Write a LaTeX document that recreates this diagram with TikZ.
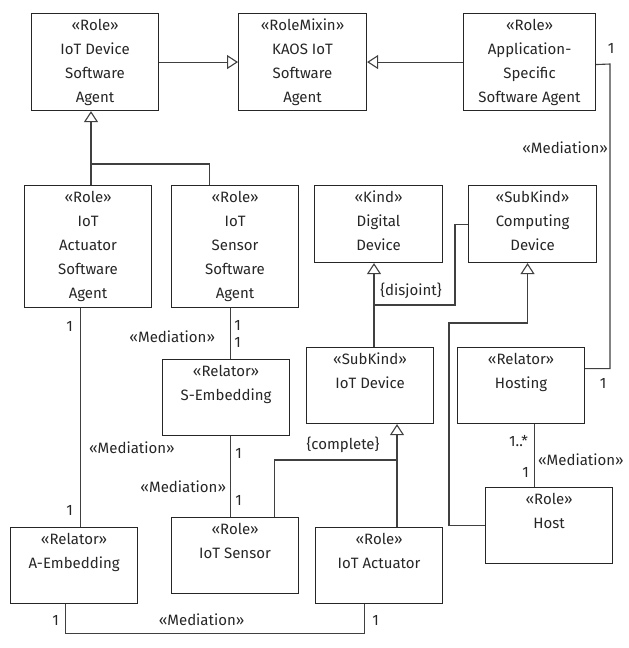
\documentclass[tikz,border=0pt]{standalone}
\usepackage{fontspec}
\setmainfont{Fira Sans}
\usetikzlibrary{arrows.meta}

\newcommand{\umltext}[3]{\parbox[c][#2pt][t]{#1pt}{\centering\strut #3}}

\tikzset{
    umlclass/.style={draw=black!85, line width=1.1pt, anchor=north west, inner sep=0pt,
        text=black!85, font=\fontsize{15}{24}\selectfont},
    assoc/.style={draw=black!75, line width=1.1pt},
    gen/.style={assoc, -{Triangle[open, length=11pt, width=14pt, fill=white]}},
    mult/.style={inner sep=1pt, text=black!85, font=\fontsize{15}{18}\selectfont},
}

\begin{document}
\begin{tikzpicture}[x=1pt, y=-1pt]
    \useasboundingbox (0,0) rectangle (629,648);

    \node [umlclass] (devsa) at (31,13)
        {\umltext{127}{97}{«Role»\\IoT Device\\Software\\Agent}};
    \node [umlclass] (kaos) at (238,13)
        {\umltext{128}{97}{«RoleMixin»\\KAOS IoT\\Software\\Agent}};
    \node [umlclass] (appsa) at (463,13)
        {\umltext{132}{97}{«Role»\\Application-\\Specific\\Software Agent}};
    \node [umlclass] (actsa) at (24,185)
        {\umltext{127}{122}{«Role»\\IoT\\Actuator\\Software\\Agent}};
    \node [umlclass] (senssa) at (171,185)
        {\umltext{127}{122}{«Role»\\IoT\\Sensor\\Software\\Agent}};
    \node [umlclass] (digital) at (314,185)
        {\umltext{128}{77}{«Kind»\\Digital\\Device}};
    \node [umlclass] (computing) at (468,185)
        {\umltext{128}{77}{«SubKind»\\Computing\\Device}};
    \node [umlclass] (semb) at (162,359)
        {\umltext{127}{76}{«Relator»\\S-Embedding}};
    \node [umlclass] (iotdev) at (306,347)
        {\umltext{127}{76}{«SubKind»\\IoT Device}};
    \node [umlclass] (hosting) at (457,347)
        {\umltext{127}{76}{«Relator»\\Hosting}};
    \node [umlclass] (aemb) at (10,527)
        {\umltext{127}{76}{«Relator»\\A-Embedding}};
    \node [umlclass] (sensor) at (171,517)
        {\umltext{127}{76}{«Role»\\IoT Sensor}};
    \node [umlclass] (actuator) at (315,527)
        {\umltext{127}{76}{«Role»\\IoT Actuator}};
    \node [umlclass] (host) at (485,487)
        {\umltext{127}{76}{«Role»\\Host}};

    \coordinate (agentjoin) at (91,164);
    \coordinate (appbend) at (610,64);
    \coordinate (devjoin) at (374,305);
    \coordinate (hostbend) at (449,323);
    \coordinate (rolejoin) at (397,460);

    % generalizations
    \draw [gen] (devsa) -- (kaos);
    \draw [gen] (appsa) -- (kaos);
    \draw [gen]
        (actsa.north -| agentjoin) -- (agentjoin) -- (agentjoin |- devsa.south)
        ;
    \draw [assoc]
        ([xshift=-25.5pt]senssa.north) |- (agentjoin)
        ;
    \draw [gen]
        (iotdev.north -| devjoin) -- (devjoin) -- (devjoin |- digital.south)
        ;
    \draw [assoc]
        (computing.west) -- ++(-13,0) |- (devjoin)
        ;
    \node [mult] (disjoint) at ([xshift=37pt, yshift=14pt]devjoin) {\{disjoint\}};
    \draw [gen]
        (host.west) -| (hostbend) -| ([xshift=-5pt]computing.south)
        ;
    \draw [gen]
        (actuator.north -| rolejoin) -- (rolejoin) -- (rolejoin |- iotdev.south)
        ;
    \draw [assoc]
        ([xshift=39.5pt]sensor.north) |- (rolejoin)
        ;
    \node [mult] (complete) at ([xshift=-54pt, yshift=15pt]rolejoin) {\{complete\}};

    % mediations
    \draw [assoc]
        ([yshift=-2.5pt]appsa.east) -- (appbend)
            node [mult, xshift=1pt, yshift=16pt] (appone) {1}
        |- ([yshift=17pt]hosting.east)
            node [mult, xshift=18pt, yshift=-15pt] (hostingone) {1}
        ;
    \node [mult, anchor=east] (appmed) at ([xshift=-1pt, yshift=-84pt]appbend) {«Mediation»};

    \draw [assoc]
        ([xshift=-7.5pt]actsa.south)
            node [mult, xshift=-11pt, yshift=-18pt] (actsaone) {1}
            node [mult, anchor=west, xshift=7pt, yshift=-140pt] (actsamed) {«Mediation»}
        -- ([xshift=6.5pt]aemb.north)
            node [mult, xshift=-11pt, yshift=17pt] (aembtop) {1}
        ;
    \draw [assoc]
        ([xshift=-4.5pt]senssa.south)
            node [mult, xshift=7pt, yshift=-17pt] (senssaone) {1}
            node [mult, anchor=east, xshift=-14pt, yshift=-29pt] (senssamed) {«Mediation»}
        -- ([xshift=4.5pt]semb.north)
            node [mult, xshift=7pt, yshift=17pt] (sembtop) {1}
        ;
    \draw [assoc]
        ([xshift=4.5pt]semb.south)
            node [mult, xshift=8pt, yshift=-17pt] (sembone) {1}
            node [mult, anchor=east, xshift=-3pt, yshift=-51pt] (sembmed) {«Mediation»}
        -- ([xshift=-4.5pt]sensor.north)
            node [mult, xshift=8pt, yshift=17pt] (sensorone) {1}
        ;
    \draw [assoc]
        ([xshift=-8.5pt]aemb.south)
            node [mult, xshift=-10pt, yshift=-16pt] (aembone) {1}
            node [mult, xshift=136pt, yshift=-16pt] (aembmed) {«Mediation»}
        -- ++(0,29) -| ([xshift=-14.5pt]actuator.south)
            node [mult, xshift=11pt, yshift=-16pt] (actuatorone) {1}
        ;
    \draw [assoc]
        ([xshift=13.5pt]hosting.south)
            node [mult, xshift=-16pt, yshift=-17pt] (hostingmany) {1..*}
            node [mult, anchor=west, xshift=2pt, yshift=-36pt] (hostingmed) {«Mediation»}
        -- ([xshift=-14.5pt]host.north)
            node [mult, xshift=-9pt, yshift=15pt] (hostone) {1}
        ;
\end{tikzpicture}
\end{document}
